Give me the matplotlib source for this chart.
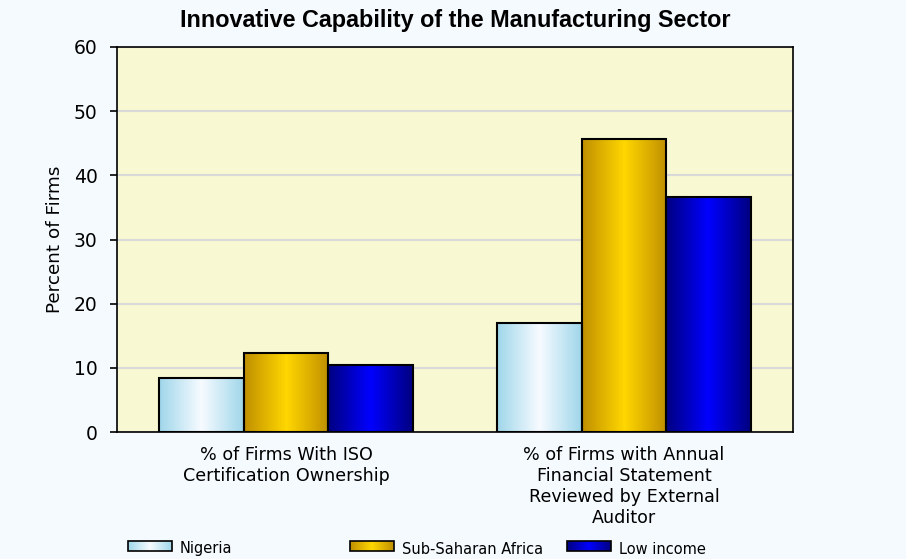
import numpy as np
import matplotlib
matplotlib.use('Agg')
import matplotlib.pyplot as plt
from matplotlib.colors import LinearSegmentedColormap

# chart data
categories = ['% of Firms With ISO\nCertification Ownership',
              '% of Firms with Annual\nFinancial Statement\nReviewed by External\nAuditor']
series_names = ['Nigeria', 'Sub-Saharan Africa', 'Low income']
nigeria = [8.4, 17.0]
ssa = [12.3, 45.6]
low_income = [10.4, 36.6]
values = [nigeria, ssa, low_income]

# gradient colours: edge colour, centre colour
grad_colors = [('#9fd6ea', '#f7fbff'), ('#c08f00', '#ffd700'), ('#000080', '#0000ff')]

plt.rcParams['font.family'] = ['DejaVu Sans']

fig = plt.figure(figsize=(9.06, 5.59), dpi=100)
fig.patch.set_facecolor('#f5faff')
ax = fig.add_axes([117 / 906, 1 - 432 / 559, 676 / 906, 385 / 559])
ax.set_facecolor('#f8f8d2')

def make_cmap(c):
    return LinearSegmentedColormap.from_list('g', [c[0], c[1], c[0]])

grad = np.linspace(0, 1, 256).reshape(1, -1)
bar_w = 0.25
x = np.arange(len(categories))
for i, (name, vals) in enumerate(zip(series_names, values)):
    cmap = make_cmap(grad_colors[i])
    offs = x + (i - 1) * bar_w
    for xo, v in zip(offs, vals):
        ax.imshow(grad, cmap=cmap, aspect='auto', zorder=2,
                  extent=(xo - bar_w / 2, xo + bar_w / 2, 0, v))
    ax.bar(offs, vals, bar_w, facecolor='none', edgecolor='black',
           linewidth=1.5, zorder=3)

ax.set_xlim(-0.5, 1.5)
ax.set_ylim(0, 60)
ax.set_yticks(range(0, 61, 10))
ax.yaxis.grid(True, color='#d9d9d9', linewidth=1.5, zorder=0)
ax.set_axisbelow(True)
ax.set_xticks(x)
ax.set_xticklabels(categories, fontsize=12.6, linespacing=1.22)
ax.tick_params(axis='x', length=0, pad=10)
ax.tick_params(axis='y', labelsize=13.5, length=5, width=1.2, pad=9)
for s in ax.spines.values():
    s.set_linewidth(1.2)
ax.set_ylabel('Percent of Firms', fontsize=13.2, labelpad=7)
fig.text(455 / 906, 1 - 20 / 559, 'Innovative Capability of the Manufacturing Sector',
         ha='center', va='center', fontsize=16.8, fontweight='bold',
         family='Liberation Sans')

# legend along the bottom edge
lax = fig.add_axes([0, 0, 1, 30 / 559])
lax.set_xlim(0, 906)
lax.set_ylim(30, 0)
lax.axis('off')
swatch_x = [128, 350, 567]
for i, name in enumerate(series_names):
    sx = swatch_x[i]
    lax.imshow(grad, cmap=make_cmap(grad_colors[i]), aspect='auto',
               extent=(sx, sx + 44, 22, 12))
    lax.add_patch(plt.Rectangle((sx, 12), 44, 10, facecolor='none',
                                edgecolor='black', linewidth=1.2))
    lax.text(sx + 52, 20, name, fontsize=10.5, va='center', ha='left')
lax.set_xlim(0, 906)
lax.set_ylim(30, 0)

fig.savefig('out.png', dpi=100, facecolor=fig.get_facecolor())
